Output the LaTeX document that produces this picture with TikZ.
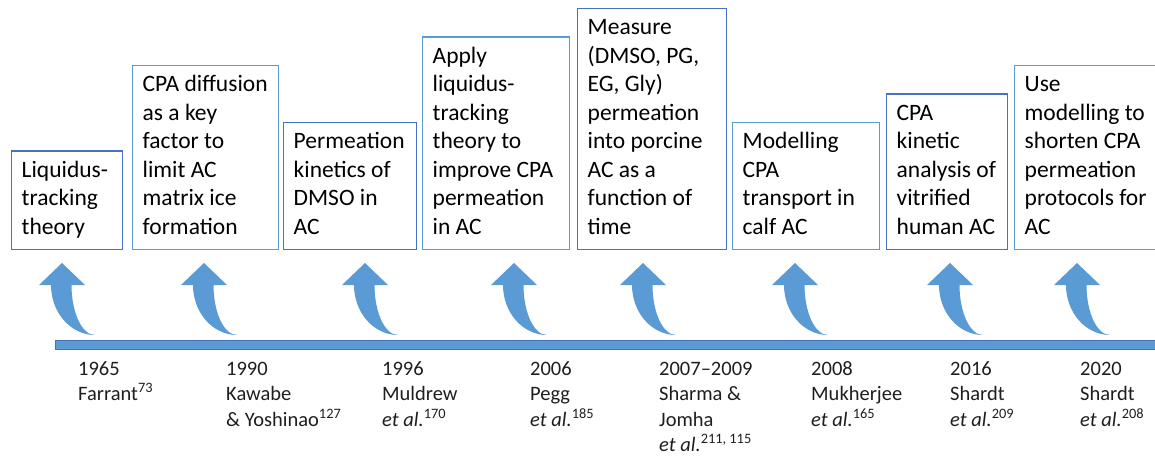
\documentclass[tikz,border=0pt]{standalone}
\usepackage{fontspec}
\setmainfont{Carlito}
\definecolor{boxdark}{HTML}{4472C4}
\definecolor{boxlight}{HTML}{5B9BD5}
\definecolor{arrowblue}{HTML}{5B9BD5}
\definecolor{barblue}{HTML}{5B9BD5}
\definecolor{baredge}{HTML}{4A70B8}
\definecolor{inktext}{HTML}{1E1E1E}
% fixed-width block of explicitly broken lines, left aligned
\newcommand\boxtext[2]{\makebox[#1][l]{\begin{tabular}{@{}l@{}}#2\end{tabular}}}
\newcommand\yearlines[1]{\begin{tabular}[t]{@{}l@{}}#1\end{tabular}}
\begin{document}
\begin{tikzpicture}[x=1pt,y=-1pt,
  eventbox/.style={draw, line width=1.4pt, fill=white, inner xsep=10pt,
    inner ysep=6.5pt, anchor=south west, text=black,
    font=\fontsize{23.5}{28.5}\selectfont},
  darkbox/.style={eventbox, draw=boxdark},
  lightbox/.style={eventbox, draw=boxlight},
  yeartext/.style={anchor=base west, inner sep=0pt, text=inktext,
    font=\fontsize{20.5}{25.5}\selectfont},
  curvedup/.pic={
    \fill[arrowblue] (0,0) -- (23,22) -- (9.5,22)
      .. controls (9.5,49.6) and (20,72) .. (33,72)
      .. controls (8.7,72) and (-11,49.6) .. (-11,22)
      -- (-23,22) -- cycle;
  }]
\useasboundingbox (0,0) rectangle (1155,455);

% event boxes
\node[darkbox]  (b1) at (11,250)   {\boxtext{91pt}{Liquidus-\\tracking\\theory}};
\node[lightbox] (b2) at (132,250)  {\boxtext{126pt}{CPA diffusion\\as a key\\factor to\\limit AC\\matrix ice\\formation}};
\node[darkbox]  (b3) at (283,250)  {\boxtext{113pt}{Permeation\\kinetics of\\DMSO in\\AC}};
\node[lightbox] (b4) at (422,250)  {\boxtext{127pt}{Apply\\liquidus-\\tracking\\theory to\\improve CPA\\permeation\\in AC}};
\node[darkbox]  (b5) at (577,250)  {\boxtext{129pt}{Measure\\(DMSO, PG,\\EG, Gly)\\permeation\\into porcine\\AC as a\\function of\\time}};
\node[lightbox] (b6) at (732,250)  {\boxtext{127pt}{Modelling\\CPA\\transport in\\calf AC}};
\node[darkbox]  (b7) at (886,250)  {\boxtext{101pt}{CPA\\kinetic\\analysis of\\vitrified\\human AC}};
\node[lightbox] (b8) at (1014,250) {\boxtext{130pt}{Use\\modelling to\\shorten CPA\\permeation\\protocols for\\AC}};

% curved arrows rising from the time axis
\foreach \ax in {62,204,365,514,643,795,950,1077}
  \pic at (\ax,263) {curvedup};

% time axis
\draw[fill=barblue, draw=baredge, line width=1pt] (55,340) rectangle (1165,349);

% dates and references
\node[yeartext] (y1) at (78,375)   {\yearlines{1965\\Farrant\textsuperscript{73}}};
\node[yeartext] (y2) at (226,375)  {\yearlines{1990\\Kawabe\\\& Yoshinao\textsuperscript{127}}};
\node[yeartext] (y3) at (382,375)  {\yearlines{1996\\Muldrew\\\textit{et al.}\textsuperscript{170}}};
\node[yeartext] (y4) at (530,375)  {\yearlines{2006\\Pegg\\\textit{et al.}\textsuperscript{185}}};
\node[yeartext] (y5) at (659,375)  {\yearlines{2007–2009\\Sharma \&\\Jomha\\\textit{et al.}\textsuperscript{211, 115}}};
\node[yeartext] (y6) at (811,375)  {\yearlines{2008\\Mukherjee\\\textit{et al.}\textsuperscript{165}}};
\node[yeartext] (y7) at (950,375)  {\yearlines{2016\\Shardt\\\textit{et al.}\textsuperscript{209}}};
\node[yeartext] (y8) at (1080,375) {\yearlines{2020\\Shardt\\\textit{et al.}\textsuperscript{208}}};
\end{tikzpicture}
\end{document}
